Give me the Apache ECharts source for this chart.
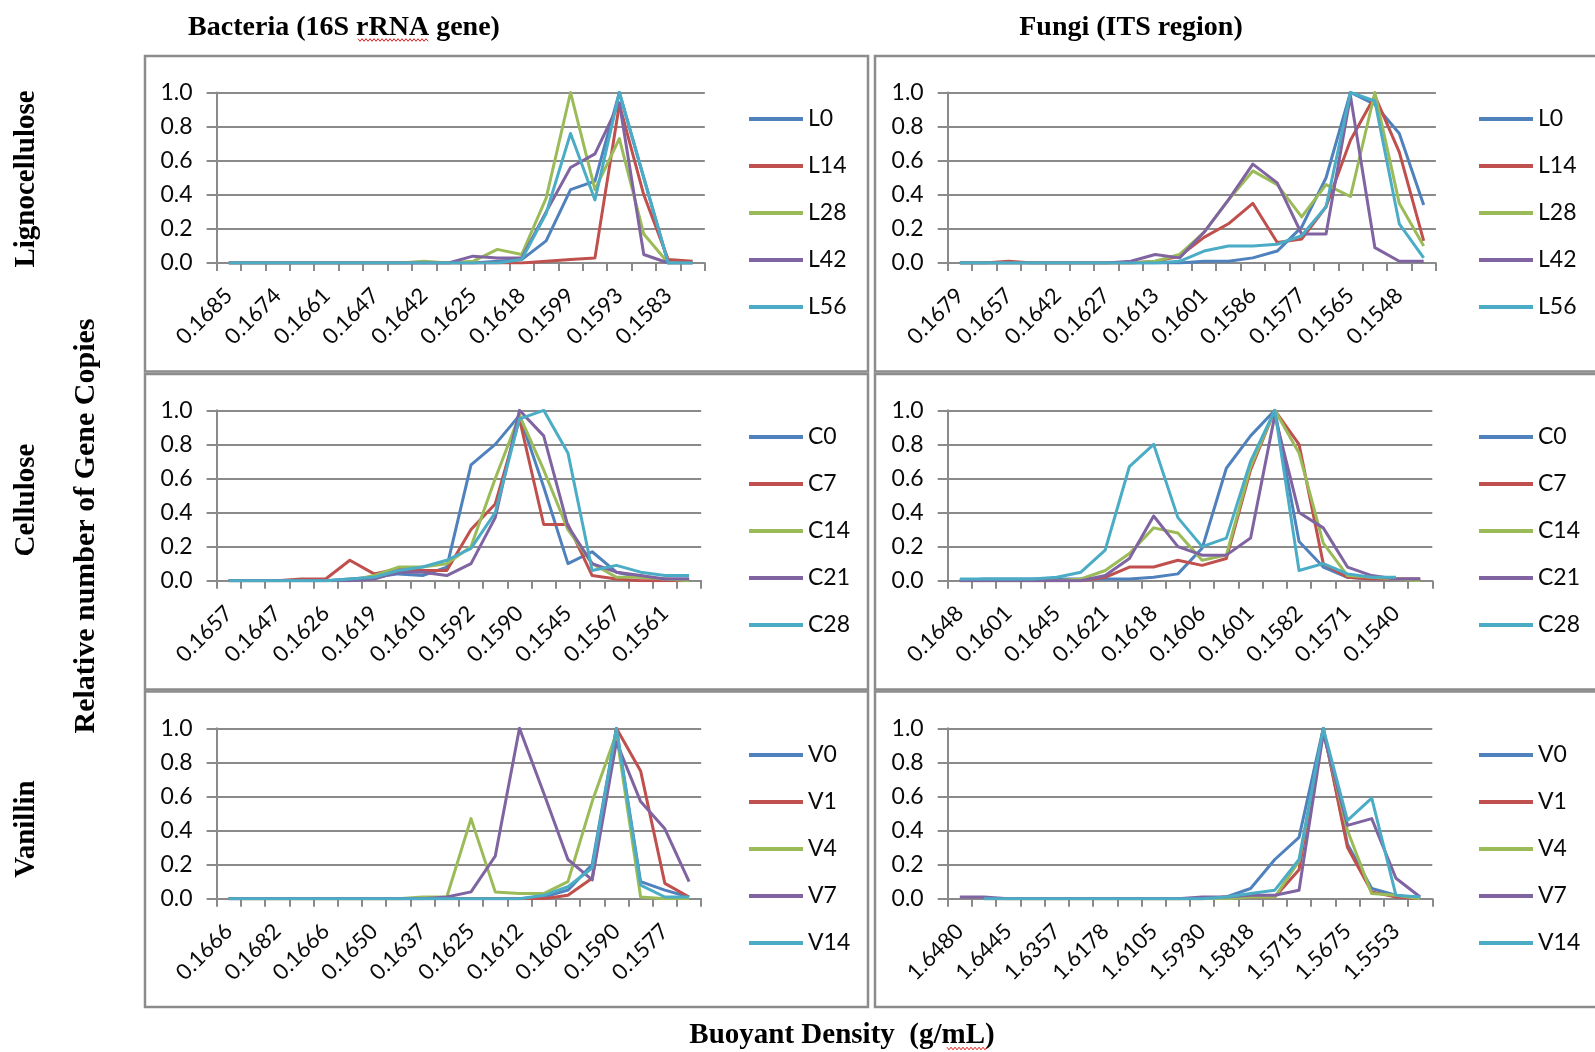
<!DOCTYPE html>
<html><head><meta charset="utf-8">
<script src="https://cdn.jsdelivr.net/npm/echarts@6/dist/echarts.min.js"></script>
<style>html,body{margin:0;padding:0;background:#fff}#c{width:1595px;height:1052px}</style>
</head><body><div id="c"></div>
<script>
// ---------- DATA ----------
const lignoNames = ['L0','L14','L28','L42','L56'];
const cellNames  = ['C0','C7','C14','C21','C28'];
const vanNames   = ['V0','V1','V4','V7','V14'];

const bactLignoCats = ['0.1685','0.1680','0.1674','0.1668','0.1661','0.1654','0.1647','0.1645','0.1642','0.1633','0.1625','0.1621','0.1618','0.1608','0.1599','0.1596','0.1593','0.1588','0.1583','0.1578'];
const bactLignoL0  = [0,0,0,0,0,0,0,0,0,0,0,0.01,0.02,0.13,0.43,0.48,1.0,0.5,0,0];
const bactLignoL14 = [0,0,0,0,0,0,0,0,0,0,0,0,0,0.01,0.02,0.03,0.93,0.4,0.02,0.01];
const bactLignoL28 = [0,0,0,0,0,0,0,0,0.01,0,0.01,0.08,0.05,0.38,1.0,0.43,0.73,0.17,0,0];
const bactLignoL42 = [0,0,0,0,0,0,0,0,0,0,0.04,0.03,0.03,0.3,0.56,0.64,0.94,0.05,0,0];
const bactLignoL56 = [0,0,0,0,0,0,0,0,0,0,0,0,0.02,0.29,0.76,0.37,1.0,0.5,0,0];

const fungiLignoCats = ['0.1679','0.1668','0.1657','0.1650','0.1642','0.1634','0.1627','0.1620','0.1613','0.1607','0.1601','0.1594','0.1586','0.1582','0.1577','0.1571','0.1565','0.1556','0.1548','0.1540'];
const fungiLignoL0  = [0,0,0,0,0,0,0,0,0,0,0.01,0.01,0.03,0.07,0.21,0.5,1.0,0.93,0.76,0.34];
const fungiLignoL14 = [0,0,0.01,0,0,0,0,0,0.01,0.04,0.15,0.23,0.35,0.12,0.14,0.33,0.72,0.98,0.65,0.13];
const fungiLignoL28 = [0,0,0,0,0,0,0,0,0.01,0.05,0.18,0.37,0.54,0.46,0.27,0.46,0.39,1.0,0.35,0.1];
const fungiLignoL42 = [0,0,0,0,0,0,0,0.01,0.05,0.03,0.18,0.37,0.58,0.47,0.17,0.17,0.98,0.09,0.01,0.01];
const fungiLignoL56 = [0,0,0,0,0,0,0,0,0,0.01,0.07,0.1,0.1,0.11,0.16,0.33,1.0,0.95,0.23,0.03];

const bactCellCats = ['0.1657','0.1652','0.1647','0.1637','0.1626','0.1622','0.1619','0.1615','0.1610','0.1601','0.1592','0.1591','0.1590','0.1568','0.1545','0.1556','0.1567','0.1564','0.1561','0.1558'];
const bactCellC0  = [0,0,0,0,0,0.01,0.02,0.04,0.03,0.08,0.68,0.8,0.97,0.55,0.1,0.17,0.05,0.02,0.01,0.01];
const bactCellC7  = [0,0,0,0.01,0.01,0.12,0.04,0.07,0.06,0.06,0.3,0.45,0.95,0.33,0.33,0.03,0.01,0,0,0];
const bactCellC14 = [0,0,0,0,0,0,0.03,0.08,0.08,0.1,0.2,0.6,0.97,0.65,0.3,0.1,0.02,0.02,0.01,0];
const bactCellC21 = [0,0,0,0,0,0,0.01,0.05,0.05,0.03,0.1,0.37,1.0,0.85,0.32,0.1,0.05,0.03,0.01,0.01];
const bactCellC28 = [0,0,0,0,0,0.01,0.02,0.06,0.08,0.12,0.19,0.4,0.95,1.0,0.75,0.06,0.09,0.05,0.03,0.03];

const fungiCellCats = ['0.1648','0.1624','0.1601','0.1623','0.1645','0.1633','0.1621','0.1619','0.1618','0.1612','0.1606','0.1603','0.1601','0.1590','0.1582','0.1576','0.1571','0.1555','0.1540','0.1535'];
const fungiCellC0  = [0,0.01,0.01,0.01,0.01,0.01,0.01,0.01,0.02,0.04,0.19,0.66,0.85,1.0,0.23,0.08,0.02,0.01,0.01,0.01];
const fungiCellC7  = [0,0,0,0,0,0,0.02,0.08,0.08,0.12,0.09,0.13,0.65,1.0,0.8,0.1,0.02,0.01,0.01,0.01];
const fungiCellC14 = [0,0,0,0,0,0.01,0.06,0.16,0.31,0.28,0.12,0.15,0.67,1.0,0.75,0.22,0.03,0.02,0.01,0];
const fungiCellC21 = [0,0,0,0,0,0,0.03,0.13,0.38,0.2,0.15,0.15,0.25,0.97,0.4,0.31,0.08,0.03,0.01,0.01];
const fungiCellC28 = [0.01,0.01,0.01,0.01,0.02,0.05,0.18,0.67,0.8,0.37,0.2,0.25,0.7,1.0,0.06,0.1,0.04,0.02,0.02,null];

const bactVanCats = ['0.1666','0.1675','0.1682','0.1672','0.1666','0.1657','0.1650','0.1643','0.1637','0.1631','0.1625','0.1618','0.1612','0.1607','0.1602','0.1596','0.1590','0.1583','0.1577','0.1570'];
const bactVanV0  = [0,0,0,0,0,0,0,0,0,0,0,0,0,0.01,0.05,0.2,1.0,0.1,0.05,0.01];
const bactVanV1  = [0,0,0,0,0,0,0,0,0,0,0,0,0,0,0.02,0.12,1.0,0.75,0.09,0.01];
const bactVanV4  = [0,0,0,0,0,0,0,0,0.01,0.01,0.47,0.04,0.03,0.03,0.1,0.57,0.97,0.01,0,0];
const bactVanV7  = [0,0,0,0,0,0,0,0,0,0.01,0.04,0.25,1.0,0.62,0.23,0.11,0.92,0.57,0.41,0.1];
const bactVanV14 = [0,0,0,0,0,0,0,0,0,0,0,0,0,0.02,0.07,0.18,1.0,0.08,0.01,0.01];

const fungiVanCats = ['1.6480','1.6460','1.6445','1.6400','1.6357','1.6260','1.6178','1.6140','1.6105','1.6010','1.5930','1.5870','1.5818','1.5760','1.5715','1.5695','1.5675','1.5610','1.5553','1.5500'];
const fungiVanV0  = [null,0,0,0,0,0,0,0,0,0,0,0.01,0.06,0.23,0.36,1.0,0.32,0.06,0.02,0];
const fungiVanV1  = [null,0,0,0,0,0,0,0,0,0,0,0.01,0.01,0.01,0.17,1.0,0.3,0.04,0.01,0];
const fungiVanV4  = [null,0,0,0,0,0,0,0,0,0,0,0,0.01,0.01,0.22,0.98,0.4,0.03,0.02,0];
const fungiVanV7  = [0.01,0.01,0,0,0,0,0,0,0,0,0.01,0.01,0.02,0.02,0.05,0.97,0.43,0.47,0.12,0.01];
const fungiVanV14 = [null,0,0,0,0,0,0,0,0,0,0,0.01,0.03,0.05,0.23,1.0,0.46,0.59,0.02,0.01];

const yTicks = [0, 0.2, 0.4, 0.6, 0.8, 1.0];

// ---------- LAYOUT / STYLE ----------
const COLORS = ['#4F81BD','#C0504D','#9BBB59','#8064A2','#4BACC6'];
const GRAY = '#8a8a8a';
const TICKFONT = 'Lato, "Open Sans", sans-serif';
const SERIF = '"Liberation Serif", "Times New Roman", serif';

const panels = [
  {cats: bactLignoCats,  names: lignoNames, vals: [bactLignoL0,bactLignoL14,bactLignoL28,bactLignoL42,bactLignoL56], g:{left:216.6, top:92.5, width:488.2, height:170.5}, lg:{left:749, top:107.5}},
  {cats: fungiLignoCats, names: lignoNames, vals: [fungiLignoL0,fungiLignoL14,fungiLignoL28,fungiLignoL42,fungiLignoL56], g:{left:947.7, top:92.5, width:488.2, height:170.5}, lg:{left:1479, top:107.5}},
  {cats: bactCellCats,   names: cellNames,  vals: [bactCellC0,bactCellC7,bactCellC14,bactCellC21,bactCellC28], g:{left:216.6, top:410.3, width:484.6, height:170.4}, lg:{left:749, top:425.5}},
  {cats: fungiCellCats,  names: cellNames,  vals: [fungiCellC0,fungiCellC7,fungiCellC14,fungiCellC21,fungiCellC28], g:{left:947.7, top:410.3, width:484.6, height:170.4}, lg:{left:1479, top:425.5}},
  {cats: bactVanCats,    names: vanNames,   vals: [bactVanV0,bactVanV1,bactVanV4,bactVanV7,bactVanV14], g:{left:216.6, top:728.3, width:484.6, height:170.4}, lg:{left:749, top:743.5}},
  {cats: fungiVanCats,   names: vanNames,   vals: [fungiVanV0,fungiVanV1,fungiVanV4,fungiVanV7,fungiVanV14], g:{left:947.7, top:728.3, width:484.6, height:170.4}, lg:{left:1479, top:743.5}}
];

const grid = [], xAxis = [], yAxis = [], series = [], legend = [];
panels.forEach((p, i) => {
  grid.push(Object.assign({containLabel:false, outerBoundsMode:'none'}, p.g));
  xAxis.push({
    type:'category', gridIndex:i, data:p.cats, boundaryGap:true,
    axisLine:{show:true, lineStyle:{color:GRAY, width:2}},
    axisTick:{show:true, interval:0, length:8, inside:false, lineStyle:{color:GRAY, width:2}},
    axisLabel:{interval:1, rotate:45, margin:29, fontSize:22, fontFamily:TICKFONT, color:'#0a0a0a', hideOverlap:false},
    splitLine:{show:false}
  });
  yAxis.push({
    type:'value', gridIndex:i, min:yTicks[0], max:yTicks[yTicks.length-1], interval:0.2,
    axisLine:{show:true, lineStyle:{color:GRAY, width:2}},
    axisTick:{show:true, length:10, lineStyle:{color:GRAY, width:2}},
    axisLabel:{margin:24, fontSize:23, fontFamily:TICKFONT, color:'#0a0a0a', formatter:v => v.toFixed(1)},
    splitLine:{show:true, lineStyle:{color:GRAY, width:2}}
  });
  p.vals.forEach((arr, k) => {
    series.push({
      type:'line', name:p.names[k], xAxisIndex:i, yAxisIndex:i, data:arr,
      symbol:'none', showSymbol:false, color:COLORS[k], connectNulls:false,
      lineStyle:{width:3, color:COLORS[k], join:'round'}, itemStyle:{color:COLORS[k]},
      emphasis:{disabled:true}, animation:false
    });
  });
  legend.push({
    orient:'vertical', left:p.lg.left, top:p.lg.top, padding:0,
    data:p.names, icon:'rect', itemWidth:54, itemHeight:4, itemGap:24,
    selectedMode:false,
    textStyle:{fontSize:23, lineHeight:23, fontFamily:TICKFONT, color:'#0a0a0a'}
  });
});

function wave(x0, x1, y) {
  const pts = [];
  for (let x = x0, k = 0; x <= x1; x += 2, k++) pts.push([x, y + (k % 2 ? 1.3 : -1.3)]);
  return pts;
}

const boxStyle = {fill:'none', stroke:'#8c8c8c', lineWidth:2.5};
const graphic = [
  {type:'rect', shape:{x:145, y:56,    width:723, height:315.5}, style:boxStyle, silent:true},
  {type:'rect', shape:{x:875, y:56,    width:740, height:315.5}, style:boxStyle, silent:true},
  {type:'rect', shape:{x:145, y:374,   width:723, height:315.5}, style:boxStyle, silent:true},
  {type:'rect', shape:{x:875, y:374,   width:740, height:315.5}, style:boxStyle, silent:true},
  {type:'rect', shape:{x:145, y:691.5, width:723, height:315.5}, style:boxStyle, silent:true},
  {type:'rect', shape:{x:875, y:691.5, width:740, height:315.5}, style:boxStyle, silent:true},
  {type:'text', x:344, y:28, style:{text:'Bacteria (16S rRNA gene)', font:'bold 28px '+SERIF, fill:'#000', textAlign:'center', textVerticalAlign:'middle'}},
  {type:'text', x:1131, y:28, style:{text:'Fungi (ITS region)', font:'bold 28px '+SERIF, fill:'#000', textAlign:'center', textVerticalAlign:'middle'}},
  {type:'text', x:26.5, y:179, rotation:Math.PI/2, style:{text:'Lignocellulose', font:'bold 29px '+SERIF, fill:'#000', textAlign:'center', textVerticalAlign:'middle'}},
  {type:'text', x:26.5, y:500, rotation:Math.PI/2, style:{text:'Cellulose', font:'bold 29px '+SERIF, fill:'#000', textAlign:'center', textVerticalAlign:'middle'}},
  {type:'text', x:26.5, y:829, rotation:Math.PI/2, style:{text:'Vanillin', font:'bold 29px '+SERIF, fill:'#000', textAlign:'center', textVerticalAlign:'middle'}},
  {type:'text', x:86, y:526, rotation:Math.PI/2, style:{text:'Relative number of Gene Copies', font:'bold 30px '+SERIF, fill:'#000', textAlign:'center', textVerticalAlign:'middle'}},
  {type:'text', x:842, y:1036, style:{text:'Buoyant Density  (g/mL)', font:'bold 29px '+SERIF, fill:'#000', textAlign:'center', textVerticalAlign:'middle'}},
  {type:'polyline', shape:{points:wave(358, 428, 40)}, style:{stroke:'#e02020', lineWidth:1, fill:'none'}, silent:true},
  {type:'polyline', shape:{points:wave(947, 987, 1048.5)}, style:{stroke:'#e02020', lineWidth:1, fill:'none'}, silent:true}
];

const chart = echarts.init(document.getElementById('c'), null, {renderer:'canvas', width:1595, height:1052});
chart.setOption({
  backgroundColor:'#fff', animation:false,
  grid, xAxis, yAxis, series, legend, graphic,
  tooltip:{show:false}
});
</script></body></html>
